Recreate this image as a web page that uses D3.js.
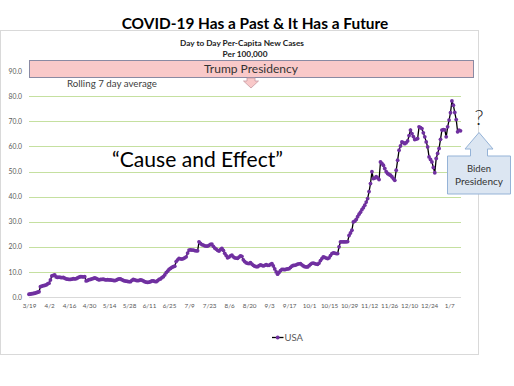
<!DOCTYPE html>
<html>
<head>
<meta charset="utf-8">
<script src="https://cdn.jsdelivr.net/npm/d3@7"></script>
<style>
  body { margin: 0; background: #fff; }
  text { font-family: Lato, "Open Sans", sans-serif; }
</style>
</head>
<body>
<div id="chart"></div>
<script>
// rolling 7 day average, new cases per 100,000, one value per day from 3/19/2020
var startDate = new Date(2020, 2, 19);
var usa = [
  1.1,1.2,1.3,1.4,1.5,1.7,1.9,
  2.1,4.1,4.3,4.5,4.6,4.8,5.2,
  5.5,6.8,8.4,8.6,8.8,8.0,7.8,
  7.9,7.8,7.7,7.8,7.5,7.2,7.1,
  7.0,7.0,7.1,7.3,7.2,7.3,7.6,
  7.9,8.1,8.1,8.0,8.1,6.4,6.6,
  6.9,7.0,7.2,7.4,7.6,7.4,7.1,
  6.8,7.0,7.0,7.1,6.9,6.8,6.9,
  6.8,6.8,6.7,6.6,6.5,6.7,7.0,
  7.2,7.2,6.9,6.6,6.4,6.3,6.2,
  6.1,6.1,6.6,7.0,6.8,6.6,6.5,
  6.6,6.8,6.7,6.4,6.1,5.9,5.8,
  5.9,6.1,6.4,6.4,6.2,6.1,6.5,
  7.0,7.2,7.7,8.1,8.8,9.7,10.3,
  11.0,11.4,11.8,12.1,12.3,14.1,14.8,
  15.4,15.2,15.1,15.3,15.6,16.0,17.5,
  18.7,18.8,18.7,18.7,18.5,18.4,18.4,
  22.0,21.4,20.9,20.7,20.4,20.3,20.3,
  20.6,21.0,21.1,20.2,19.5,19.1,18.6,
  18.3,18.9,19.4,18.6,17.4,16.5,15.6,
  15.9,16.4,16.7,16.0,15.6,15.5,15.4,
  15.9,16.4,16.2,14.8,14.1,13.6,13.4,
  13.3,13.7,13.1,12.6,12.3,12.1,12.1,
  12.5,12.8,12.6,12.4,12.6,12.9,12.6,
  12.6,13.0,13.3,12.4,11.2,10.0,9.1,
  9.8,10.5,11.0,11.0,10.9,11.1,11.2,
  11.3,11.8,12.3,12.6,12.6,12.8,13.1,
  13.2,13.3,12.8,12.4,12.1,12.0,12.0,
  12.5,13.0,13.4,13.5,13.3,13.1,13.0,
  13.5,14.5,15.3,16.0,15.8,15.5,15.3,
  15.6,16.5,17.3,17.6,17.5,17.3,17.3,
  20.0,22.0,22.0,22.0,22.0,22.0,22.1,
  24.5,25.5,26.6,29.9,30.2,30.9,32.0,
  33.0,33.8,34.8,35.6,36.6,37.8,39.2,
  42.0,45.2,49.9,47.2,47.4,47.9,47.5,
  46.8,53.8,53.2,52.5,51.2,49.9,49.2,
  48.8,48.5,47.9,47.2,46.5,50.5,54.5,
  58.5,60.2,61.8,61.5,61.1,61.5,62.2,
  64.3,66.5,65.1,63.9,62.7,62.9,63.1,
  67.8,67.5,67.1,65.4,63.8,61.8,59.8,
  55.8,54.8,53.8,51.6,49.5,55.2,57.2,
  59.2,62.8,66.5,66.7,66.6,63.8,67.8,
  70.5,73.4,78.1,76.4,73.5,70.7,65.8,
  66.5,66.2
];
var xTickLabels = ["3/19","4/2","4/16","4/30","5/14","5/28","6/11","6/25","7/9","7/23","8/6",
                   "8/20","9/3","9/17","10/1","10/15","10/29","11/12","11/26","12/10","12/24","1/7"];
var yTicks = [0,10,20,30,40,50,60,70,80,90];

var W = 514, H = 386;
var svg = d3.select("#chart").append("svg").attr("width", W).attr("height", H);

// helper: scale a text's font size so it spans the given width
function fit(sel, w) {
  var len = sel.node().getComputedTextLength();
  sel.attr("font-size", +sel.attr("font-size") * w / len);
  return sel;
}

// chart frame
svg.append("rect").attr("x", 0.5).attr("y", 30.5).attr("width", 478).attr("height", 324)
   .style("fill", "white").style("stroke", "#d9d9d9");

var data = usa.map(function (v, i) { return {date: d3.timeDay.offset(startDate, i), value: v}; });

var x = d3.scaleTime()
  .domain([startDate, data[data.length - 1].date])
  .range([29, 460.5]);
var y = d3.scaleLinear().domain([0, 90]).range([297, 71.1]);

// gridlines
svg.append("g").selectAll("line").data(yTicks).enter().append("line")
  .attr("x1", 29).attr("x2", 461)
  .attr("y1", function (d) { return Math.round(y(d)) + 0.5; })
  .attr("y2", function (d) { return Math.round(y(d)) + 0.5; })
  .style("stroke", function (d) { return d == 0 ? "#d9d9d9" : "#c5e0a0"; })
  .style("stroke-width", 1.2);

// axes
var tickDates = xTickLabels.map(function (s) {
  var p = s.split("/");
  var m = +p[0];
  return new Date(m < 3 ? 2021 : 2020, m - 1, +p[1]);
});
var xAxis = svg.append("g").attr("transform", "translate(0,297)")
  .call(d3.axisBottom(x).tickValues(tickDates).tickFormat(d3.timeFormat("%-m/%-d")).tickSize(0).tickPadding(7));
var yAxis = svg.append("g").attr("transform", "translate(29,0)")
  .call(d3.axisLeft(y).tickValues(yTicks).tickFormat(d3.format(".1f")).tickSize(0).tickPadding(7));
[xAxis, yAxis].forEach(function (a) {
  a.select(".domain").remove();
  a.selectAll("text").style("font-family", "Lato, sans-serif").style("fill", "#595959");
});
xAxis.selectAll("text").attr("font-size", 6.3).attr("letter-spacing", -0.1);
yAxis.selectAll("text").attr("font-size", 6.8);

// series
var line = d3.line().x(function (d) { return x(d.date); }).y(function (d) { return y(d.value); });
svg.append("path").datum(data).attr("d", line)
  .style("fill", "none").style("stroke", "black").style("stroke-width", 1.3);
svg.append("g").selectAll("circle").data(data).enter().append("circle")
  .attr("cx", function (d) { return x(d.date); })
  .attr("cy", function (d) { return y(d.value); })
  .attr("r", 1.9)
  .style("fill", "#7030a0");

// titles
fit(svg.append("text").attr("x", 255).attr("y", 29).attr("text-anchor", "middle")
  .attr("font-size", 16).attr("font-weight", "bold").style("fill", "black")
  .text("COVID-19 Has a Past & It Has a Future"), 267);
var sub = fit(svg.append("text").attr("x", 242).attr("y", 46).attr("text-anchor", "middle")
  .attr("font-size", 8).attr("font-weight", "bold").style("fill", "#222")
  .text("Day to Day Per-Capita New Cases"), 124);
svg.append("text").attr("x", 245).attr("y", 56.5).attr("text-anchor", "middle")
  .attr("font-size", sub.attr("font-size")).attr("font-weight", "bold").style("fill", "#222")
  .text("Per 100,000");

// Trump Presidency banner
svg.append("rect").attr("x", 29.5).attr("y", 60.5).attr("width", 444).attr("height", 17)
  .style("fill", "#f9c9c9").style("stroke", "#8a8aa3").style("stroke-width", 1);
svg.append("path")
  .attr("d", "M247,78 L255,78 L255,81 L258.5,81 L251,88 L243.5,81 L247,81 Z")
  .style("fill", "#f9c9c9").style("stroke", "#c79aa3").style("stroke-width", 0.8);
fit(svg.append("text").attr("x", 251).attr("y", 73).attr("text-anchor", "middle")
  .attr("font-size", 12).style("fill", "#333")
  .text("Trump Presidency"), 94);

fit(svg.append("text").attr("x", 67).attr("y", 87).attr("font-size", 10).style("fill", "#404040")
  .text("Rolling 7 day average"), 90);

fit(svg.append("text").attr("x", 112).attr("y", 167).attr("font-size", 22).style("fill", "black")
  .text("\u201CCause and Effect\u201D"), 171);

// Biden callout
svg.append("text").attr("x", 479).attr("y", 125).attr("text-anchor", "middle")
  .attr("font-size", 21).attr("font-weight", 300).style("fill", "#222").text("?");
svg.append("path")
  .attr("d", "M479,132.5 L493,149 L487.5,149 L487.5,156 L510.5,156 L510.5,194 L447.5,194 L447.5,156 L470.5,156 L470.5,149 L465,149 Z")
  .style("fill", "#dce6f2").style("stroke", "#95b3d7").style("stroke-width", 1);
fit(svg.append("text").attr("x", 479).attr("y", 172).attr("text-anchor", "middle")
  .attr("font-size", 10).style("fill", "#333").text("Biden"), 24);
fit(svg.append("text").attr("x", 479).attr("y", 184.5).attr("text-anchor", "middle")
  .attr("font-size", 10).style("fill", "#333").text("Presidency"), 48);

// legend
var lg = svg.append("g");
lg.append("line").attr("x1", 272).attr("x2", 283.5).attr("y1", 337.5).attr("y2", 337.5)
  .style("stroke", "black").style("stroke-width", 1.3);
lg.append("circle").attr("cx", 277.7).attr("cy", 337.5).attr("r", 1.9).style("fill", "#7030a0");
lg.append("text").attr("x", 284.5).attr("y", 341).attr("font-size", 9.5).style("fill", "#595959").text("USA");
</script>
</body>
</html>
